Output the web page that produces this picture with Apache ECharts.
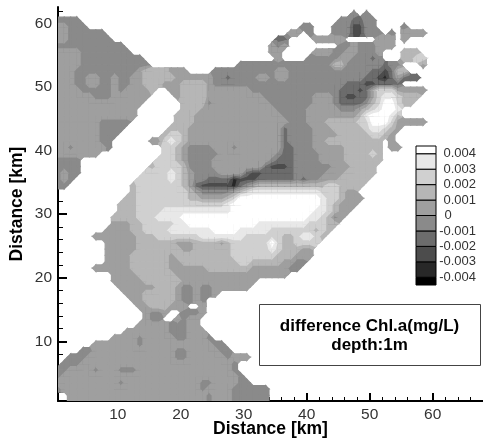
<!DOCTYPE html>
<html>
<head>
<meta charset="utf-8">
<style>html,body{margin:0;padding:0;background:#fff}#c{width:483px;height:439px}</style>
<script src="https://cdn.jsdelivr.net/npm/echarts@6/dist/echarts.min.js"></script>
</head>
<body>
<div id="c"></div>
<script>
// Chl.a difference: one line per 1 km row (north to south).
// Each token "column:band" starts a run of that band ("." = land, outside the model domain).
const fieldRows = [
"",
"47:4 48:. 49:4 50:.",
"0:4 4:. 45:4 47:3 49:4 51:.",
"0:5 2:4 5:. 39:4 41:. 44:4 47:2 49:4 51:. 55:4 56:.",
"0:5 2:4 8:. 37:5 39:. 40:4 41:. 44:4 47:2 49:4 52:. 53:4 54:. 55:5 59:.",
"0:5 2:4 9:. 35:3 37:. 41:5 46:. 51:5 54:. 55:5 56:.",
"0:4 11:. 34:5 35:4 36:5 37:. 45:4 47:5 48:4 51:5 54:.",
"0:5 4:4 12:. 34:5 36:. 41:5 44:4 46:5 48:4 51:5 52:. 55:6 58:.",
"0:5 4:4 14:. 35:5 36:. 40:4 45:5 47:4 50:3 51:4 52:. 55:6 57:7 59:.",
"0:5 4:4 15:. 29:4 44:6 46:4 52:3 53:4 55:. 58:5 59:.",
"0:5 3:4 13:5 14:6 18:5 21:. 25:4 35:5 37:4 50:3 52:2 53:3 54:6 56:.",
"0:5 3:4 5:5 7:4 9:5 10:4 12:5 14:6 19:5 25:4 27:3 28:4 32:5 34:4 35:5 37:4 49:3 51:2 52:1 53:3 54:5 55:3 58:.",
"0:5 3:4 5:5 7:4 9:5 10:4 12:5 14:6 17:5 20:6 24:5 25:4 46:3 49:2 51:3 55:.",
"0:5 4:4 9:5 10:4 11:5 15:6 16:. 18:5 20:6 24:5 31:4 45:3 48:2 49:3 50:5 51:7 54:5 59:.",
"0:5 6:4 9:5 15:. 19:5 20:6 24:5 33:4 41:5 44:4 45:3 46:2 48:3 50:5 51:7 52:8 54:7 55:6 58:.",
"0:5 14:. 20:6 24:4 25:5 34:4 41:5 44:4 45:3 49:4 50:6 51:7 52:9 54:7 55:6 57:.",
"0:5 13:. 20:6 23:5 35:4 40:5 45:4 48:5 49:6 50:7 51:8 52:9 54:8 55:.",
"0:5 13:. 19:6 22:5 36:4 40:5 48:6 49:8 50:9 53:8 54:6 55:.",
"0:5 7:4 12:. 19:6 22:5 37:4 40:5 43:6 48:7 50:9 53:7 54:5 59:.",
"0:5 7:4 11:. 18:6 21:5 36:3 37:4 41:5 44:6 49:7 50:8 52:7 53:6 54:5 55:.",
"0:5 7:4 10:. 17:6 18:7 20:6 21:5 36:3 37:4 41:5 45:6 50:7 52:6 53:5 54:.",
"0:5 7:4 9:. 15:5 17:7 18:8 19:7 20:6 21:5 36:3 37:4 41:5 43:6 52:. 53:5 54:.",
"0:5 2:4 3:5 8:4 9:. 17:7 19:6 20:5 21:4 25:5 28:4 29:5 36:3 38:4 41:5 46:6 52:. 53:5 55:.",
"0:5 7:. 17:7 19:6 20:5 21:4 26:5 35:4 36:3 38:4 42:5 46:6 50:7 51:6 52:.",
"0:4 4:. 16:7 19:6 20:5 21:4 25:5 34:4 35:3 38:4 42:5 46:6 52:.",
"0:4 4:. 15:6 16:7 20:6 21:4 25:5 33:3 34:2 37:3 38:4 44:5 47:6 51:.",
"0:4 1:5 2:4 4:. 14:7 18:8 19:7 20:6 21:5 22:4 26:5 30:3 31:2 33:3 38:4 43:5 46:6 51:.",
"0:4 1:5 2:4 3:. 13:7 18:8 19:7 20:6 21:5 22:4 24:3 28:1 29:2 32:3 38:4 39:3 40:4 42:5 45:6 50:.",
"0:4 2:. 12:6 13:7 20:6 21:5 22:3 23:2 28:1 29:3 30:4 31:5 32:6 43:7 45:6 49:.",
"12:6 13:7 21:6 22:5 23:4 28:5 29:6 30:7 31:8 42:7 45:6 46:5 48:.",
"11:6 13:7 21:6 23:5 27:6 28:7 29:9 42:8 43:7 45:6 46:5 49:.",
"10:6 13:7 27:8 28:9 42:8 43:7 44:6 45:5 48:.",
"10:6 13:7 17:8 28:9 41:8 43:7 44:6 45:5 47:.",
"9:6 13:7 16:8 20:9 40:8 42:7 43:6 44:4 45:5 46:.",
"9:5 12:6 14:7 19:8 21:9 32:8 40:7 43:6 45:.",
"8:5 12:6 14:7 18:8 25:9 29:8 34:7 41:6 42:7 43:6 44:.",
"6:5 13:6 16:7 23:8 30:7 36:6 38:7 39:8 41:7 42:6 43:.",
"8:5 13:6 19:5 22:6 26:5 27:6 28:7 34:9 35:7 36:6 38:7 42:.",
"8:5 13:6 20:5 22:6 28:7 34:8 35:7 36:6 39:5 41:.",
"8:5 12:6 18:5 19:6 28:7 35:6 38:5 41:.",
"8:5 12:6 18:5 20:6 29:7 31:6 36:5 38:4 40:.",
"6:5 12:6 18:5 24:6 31:5 37:4 39:.",
"9:5 13:6 19:5 37:.",
"9:5 14:6 20:5 32:.",
"10:5 16:6 19:5 20:4 22:5 23:4 25:5 31:.",
"11:5 14:6 19:5 20:4 22:5 23:4 25:5 26:.",
"12:5 14:6 19:5 20:4 22:5 23:4 24:.",
"13:5 15:6 18:5 21:. 23:5 24:.",
"14:5 15:4 17:5 18:. 20:4 23:5 24:.",
"14:5 15:4 17:. 19:5 20:4 21:5 23:.",
"13:5 18:4 21:5 23:.",
"11:5 18:4 21:5 24:.",
"9:5 13:4 14:5 19:4 21:5 24:4 25:.",
"6:5 13:4 14:5 25:4 27:.",
"4:4 6:5 19:4 21:5 26:4 28:.",
"2:4 5:5 19:4 21:5 27:4 28:5 31:.",
"1:4 4:5 28:4 29:.",
"0:4 2:5 6:4 7:5 10:4 13:5 28:4 29:.",
"0:4 1:5 29:4 30:.",
"0:5 10:4 11:5 23:4 25:5 29:4 31:.",
"0:4 1:5 23:4 24:5 28:4 34:.",
"2:5 24:4 25:5 28:4 34:.",
"2:5 24:4 25:5 28:4 34:."
];
const bandValues = [-0.0045,-0.0035,-0.0025,-0.0015,-0.0005,0.0005,0.0015,0.0025,0.0035,0.0045];
const bandEdges = [-0.0045,-0.004,-0.003,-0.002,-0.001,0,0.001,0.002,0.003,0.004,0.0045];
const bandColors = ['#000000','#282828','#4c4c4c','#6c6c6c','#8a8a8a','#9f9f9f','#b6b6b6','#d0d0d0','#e8e8e8','#ffffff'];
const legendTicks = [0.004,0.003,0.002,0.001,0,-0.001,-0.002,-0.003,-0.004];
const xMajorTicks = [10,20,30,40,50,60];
const yMajorTicks = [10,20,30,40,50,60];
const xMinorTicks = [2,4,6,8,12,14,16,18,22,24,26,28,32,34,36,38,42,44,46,48,52,54,56,58,62,64,66,68];
const yMinorTicks = [2,4,6,8,12,14,16,18,22,24,26,28,32,34,36,38,42,44,46,48,52,54,56,58,62];
const COLS = 60;

// decode runs into node values (row j from the south, column i from the west, nodes at half-km)
const nRows = fieldRows.length;
const field = fieldRows.map(function (line) {
  const out = new Array(COLS).fill(null);
  const toks = line.split(' ').filter(Boolean).map(function (t) { const p = t.split(':'); return [+p[0], p[1]]; });
  toks.forEach(function (t, k) {
    const end = k + 1 < toks.length ? toks[k + 1][0] : COLS;
    for (let i = t[0]; i < end; i++) out[i] = t[1] === '.' ? null : bandValues[+t[1]];
  });
  return out;
}).reverse();

const cells = [];
for (let j = 0; j < nRows - 1; j++) {
  for (let i = 0; i < COLS - 1; i++) {
    const c = [field[j][i], field[j][i + 1], field[j + 1][i + 1], field[j + 1][i]];
    if (c.some(function (v) { return v !== null; })) cells.push([i + 0.5, j + 0.5, c[0], c[1], c[2], c[3]]);
  }
}

function clip(poly, key, t) {
  const out = [];
  for (let k = 0; k < poly.length; k++) {
    const a = poly[k], b = poly[(k + 1) % poly.length];
    const ia = a[key] >= t, ib = b[key] >= t;
    if (ia) out.push(a);
    if (ia !== ib) {
      const s = (t - a[key]) / (b[key] - a[key]);
      out.push({ x: a.x + s * (b.x - a.x), y: a.y + s * (b.y - a.y), v: a.v + s * (b.v - a.v), m: a.m + s * (b.m - a.m) });
    }
  }
  return out;
}
function bandOf(v) { return bandValues.indexOf(v); }

function renderCell(params, api) {
  const cell = cells[params.dataIndex];
  const x = cell[0], y = cell[1], raw = cell.slice(2);
  const wet = raw.filter(function (v) { return v !== null; });
  const mean = wet.reduce(function (a, b) { return a + b; }, 0) / wet.length;
  const vals = raw.map(function (v) { return v === null ? mean : v; });
  const mask = raw.map(function (v) { return v === null ? 0 : 1; });
  const corners = [[x, y], [x + 1, y], [x + 1, y + 1], [x, y + 1]];
  let poly = corners.map(function (p, k) { return { x: p[0], y: p[1], v: vals[k], m: mask[k] }; });
  if (wet.length < 4) poly = clip(poly, 'm', 0.5);
  const lo = Math.min.apply(null, wet), hi = Math.max.apply(null, wet);
  const children = [];
  function paint(pl, band) {
    if (pl.length < 3) return;
    children.push({
      type: 'polygon',
      shape: { points: pl.map(function (p) { return api.coord([p.x, p.y]); }) },
      style: { fill: bandColors[band], stroke: bandColors[band], lineWidth: 1.3 }
    });
  }
  const first = bandOf(lo), last = bandOf(hi);
  paint(poly, first);
  for (let b = first + 1; b <= last; b++) paint(clip(poly, 'v', bandEdges[b]), b);
  return { type: 'group', children: children };
}

function renderLegend(params, api) {
  const a = api.coord([0, api.value(0)]), b = api.coord([1, api.value(1)]);
  return {
    type: 'rect',
    shape: { x: a[0], y: b[1], width: b[0] - a[0], height: a[1] - b[1] },
    style: { fill: bandColors[params.dataIndex], stroke: '#000', lineWidth: 1 }
  };
}
const legendBands = bandColors.map(function (_, k) { return [bandEdges[k], bandEdges[k + 1]]; });

const font = '"Liberation Sans", Arial, sans-serif';
const line = { show: true, onZero: false, lineStyle: { color: '#000', width: 2 } };
const chart = echarts.init(document.getElementById('c'), null, { renderer: 'canvas' });
chart.setOption({
  animation: false,
  backgroundColor: '#fff',
  grid: [
    { left: 58, top: 7, width: 425, height: 394, outerBoundsMode: 'none' },
    { left: 416, top: 146, width: 20, height: 139, outerBoundsMode: 'none' }
  ],
  xAxis: [
    { type: 'value', gridIndex: 0, min: 0.5, max: 68, position: 'bottom', axisLine: line,
      splitLine: { show: false },
      axisTick: { show: true, inside: true, length: 8, lineStyle: { color: '#000', width: 2 }, customValues: xMajorTicks },
      axisLabel: { show: true, margin: 6, color: '#333', fontFamily: font, fontSize: 15.5, customValues: xMajorTicks, showMinLabel: true, showMaxLabel: true },
      name: 'Distance [km]', nameLocation: 'middle', nameGap: 19, nameMoveOverlap: false,
      nameTextStyle: { color: '#000', fontFamily: font, fontWeight: 'bold', fontSize: 17.5 } },
    { type: 'value', gridIndex: 0, min: 0.5, max: 68, position: 'bottom', axisLine: { show: false },
      splitLine: { show: false },
      axisTick: { show: true, inside: true, length: 4, lineStyle: { color: '#000', width: 1 }, customValues: xMinorTicks },
      axisLabel: { show: false } },
    { type: 'value', gridIndex: 1, min: 0, max: 1, show: false }
  ],
  yAxis: [
    { type: 'value', gridIndex: 0, min: 0.6, max: 62.6, position: 'left', axisLine: line,
      splitLine: { show: false },
      axisTick: { show: true, inside: true, length: 9, lineStyle: { color: '#000', width: 2 }, customValues: yMajorTicks },
      axisLabel: { show: true, margin: 6, color: '#333', fontFamily: font, fontSize: 15.5, customValues: yMajorTicks },
      name: 'Distance [km]', nameLocation: 'middle', nameGap: 32, nameMoveOverlap: false,
      nameTextStyle: { color: '#000', fontFamily: font, fontWeight: 'bold', fontSize: 17.5 } },
    { type: 'value', gridIndex: 0, min: 0.6, max: 62.6, position: 'left', axisLine: { show: false },
      splitLine: { show: false },
      axisTick: { show: true, inside: true, length: 5, lineStyle: { color: '#000', width: 1 }, customValues: yMinorTicks },
      axisLabel: { show: false } },
    { type: 'value', gridIndex: 1, min: -0.0045, max: 0.0045, position: 'right',
      axisLine: { show: false }, axisTick: { show: false }, splitLine: { show: false },
      axisLabel: { show: true, margin: 40, align: 'right', color: '#333', fontFamily: font, fontSize: 13,
        customValues: legendTicks,
        formatter: function (v) { const r = Math.round(v * 1000); return r === 0 ? '{zero|0}' : (r / 1000).toFixed(3); },
        rich: { zero: { width: 31.5, align: 'left', color: '#333', fontFamily: font, fontSize: 13 } } } }
  ],
  series: [
    { type: 'custom', xAxisIndex: 0, yAxisIndex: 0, coordinateSystem: 'cartesian2d', clip: true, silent: true,
      progressive: 0, renderItem: renderCell, encode: { x: 0, y: 1 }, data: cells, z: 1 },
    { type: 'custom', xAxisIndex: 2, yAxisIndex: 2, coordinateSystem: 'cartesian2d', silent: true,
      renderItem: renderLegend, encode: { y: [0, 1] }, data: legendBands, z: 5 }
  ],
  graphic: [
    { type: 'rect', shape: { x: 259.5, y: 304.5, width: 221, height: 61 },
      style: { fill: '#fff', stroke: '#444', lineWidth: 1 }, z: 10 },
    { type: 'text', x: 369.5, y: 326, z: 11,
      style: { text: 'difference Chl.a(mg/L)', fill: '#000', font: 'bold 17px ' + font, textAlign: 'center', textVerticalAlign: 'middle' } },
    { type: 'text', x: 369.5, y: 345, z: 11,
      style: { text: 'depth:1m', fill: '#000', font: 'bold 17px ' + font, textAlign: 'center', textVerticalAlign: 'middle' } }
  ]
});
</script>
</body>
</html>
